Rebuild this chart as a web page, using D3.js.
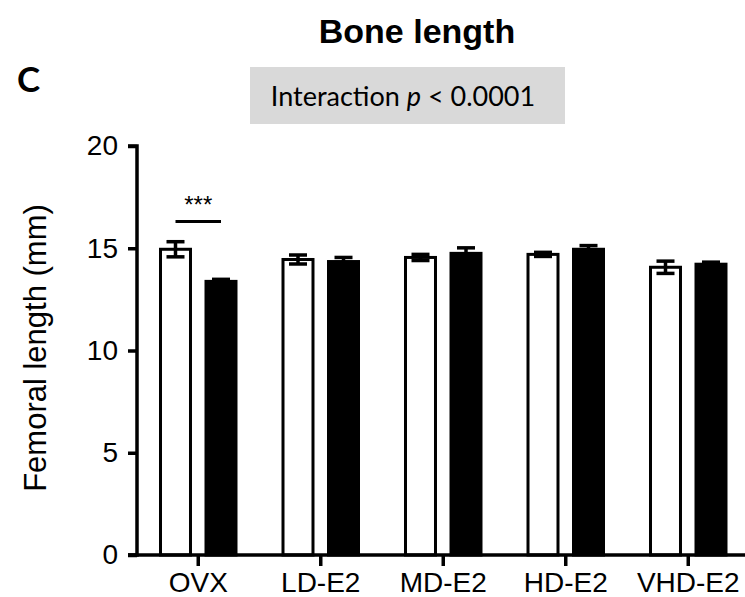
<!DOCTYPE html>
<html><head><meta charset="utf-8">
<script src="https://cdn.jsdelivr.net/npm/d3@7"></script>
<style>html,body{margin:0;padding:0;background:#fff;overflow:hidden}</style>
</head><body>
<svg id="chart" width="745" height="597"></svg>
<script>
const categories = ["OVX", "LD-E2", "MD-E2", "HD-E2", "VHD-E2"];
const seriesNames = ["open", "filled"];
const openMeans = [14.95, 14.45, 14.55, 14.70, 14.07];
const openErrors = [0.37, 0.22, 0.15, 0.10, 0.30];
const filledMeans = [13.38, 14.35, 14.75, 14.95, 14.22];
const filledErrors = [0.10, 0.20, 0.27, 0.18, 0.10];
const yTicks = [0, 5, 10, 15, 20];
const title = "Bone length";
const yLabel = "Femoral length (mm)";
const panelLetter = "C";
const sigIndex = 0, sigText = "***";

const svg = d3.select("#chart");
const y = d3.scaleLinear().domain([0, 20]).range([555, 146]);
const x0 = d3.scaleBand().domain(categories).range([137, 749.5]).padding(0);
const x1 = d3.scaleBand().domain(seriesNames).range([0, x0.bandwidth()]).paddingInner(0.275).paddingOuter(0.4835);

const rows = [];
categories.forEach((c, i) => {
  rows.push({cat: c, s: "open", v: openMeans[i], e: openErrors[i]});
  rows.push({cat: c, s: "filled", v: filledMeans[i], e: filledErrors[i]});
});

// bars
const sw = 3;
svg.append("g").selectAll("rect").data(rows).join("rect")
  .attr("x", d => x0(d.cat) + x1(d.s) + sw/2)
  .attr("width", x1.bandwidth() - sw)
  .attr("y", d => y(d.v))
  .attr("height", d => y(0) - y(d.v))
  .attr("fill", d => d.s === "open" ? "#fff" : "#000")
  .attr("stroke", "#000").attr("stroke-width", sw);

// error bars
const cap = 9;
const eg = svg.append("g").attr("stroke", "#000").attr("stroke-width", 3.5);
rows.forEach(d => {
  const cx = x0(d.cat) + x1(d.s) + x1.bandwidth()/2;
  eg.append("line").attr("x1", cx).attr("x2", cx).attr("y1", y(d.v + d.e)).attr("y2", y(d.v - d.e));
  eg.append("line").attr("x1", cx - cap).attr("x2", cx + cap).attr("y1", y(d.v + d.e)).attr("y2", y(d.v + d.e));
  eg.append("line").attr("x1", cx - cap).attr("x2", cx + cap).attr("y1", y(d.v - d.e)).attr("y2", y(d.v - d.e));
});

// axes
const yAxis = svg.append("g").attr("transform", "translate(137,0)")
  .call(d3.axisLeft(y).tickValues(yTicks).tickSize(9).tickPadding(10));
const xAxis = svg.append("g").attr("transform", "translate(0,555)")
  .call(d3.axisBottom(x0).tickSize(11).tickPadding(6));
[yAxis, xAxis].forEach(a => {
  a.select(".domain").attr("stroke", "#000").attr("stroke-width", 3.5);
  a.selectAll(".tick line").attr("stroke", "#000").attr("stroke-width", 3.5);
  a.selectAll("text").attr("fill", "#000").style("font-family", "Liberation Sans, Arial, sans-serif").style("font-size", "28px");
});
yAxis.select(".domain").attr("d", "M-9,555H0V146H-9");
xAxis.select(".domain").attr("d", "M128,0H750");
xAxis.selectAll("text").attr("dy", "0.71em");

// y label
svg.append("text").attr("transform", "translate(46,348) rotate(-90)")
  .attr("text-anchor", "middle")
  .style("font-family", "Liberation Sans, Arial, sans-serif").style("font-size", "31px")
  .text(yLabel);

// title
svg.append("text").attr("x", 417).attr("y", 43).attr("text-anchor", "middle")
  .style("font-family", "Liberation Sans, Arial, sans-serif").style("font-size", "34px").style("font-weight", "bold")
  .text(title);

// panel letter
svg.append("text").attr("x", 17).attr("y", 92)
  .style("font-family", "Lato, sans-serif").style("font-size", "35px").style("font-weight", "bold")
  .text(panelLetter);

// interaction box
svg.append("rect").attr("x", 250).attr("y", 67).attr("width", 315).attr("height", 57).attr("fill", "#d9d9d9");
const it = svg.append("text").attr("x", 403).attr("y", 106).attr("text-anchor", "middle")
  .style("font-family", "Lato, sans-serif").style("font-size", "27px");
it.append("tspan").text("Interaction ");
it.append("tspan").style("font-style", "italic").text("p");
it.append("tspan").text(" < 0.0001");

// significance
const sc = categories[sigIndex];
const sx1 = x0(sc) + x1("open") + x1.bandwidth()/2;
const sx2 = x0(sc) + x1("filled") + x1.bandwidth()/2;
svg.append("line").attr("x1", sx1).attr("x2", sx2).attr("y1", 221.5).attr("y2", 221.5)
  .attr("stroke", "#000").attr("stroke-width", 3);
svg.append("text").attr("x", (sx1 + sx2)/2).attr("y", 213).attr("text-anchor", "middle")
  .style("font-family", "Liberation Sans, Arial, sans-serif").style("font-size", "24px")
  .text(sigText);
</script>
</body></html>
